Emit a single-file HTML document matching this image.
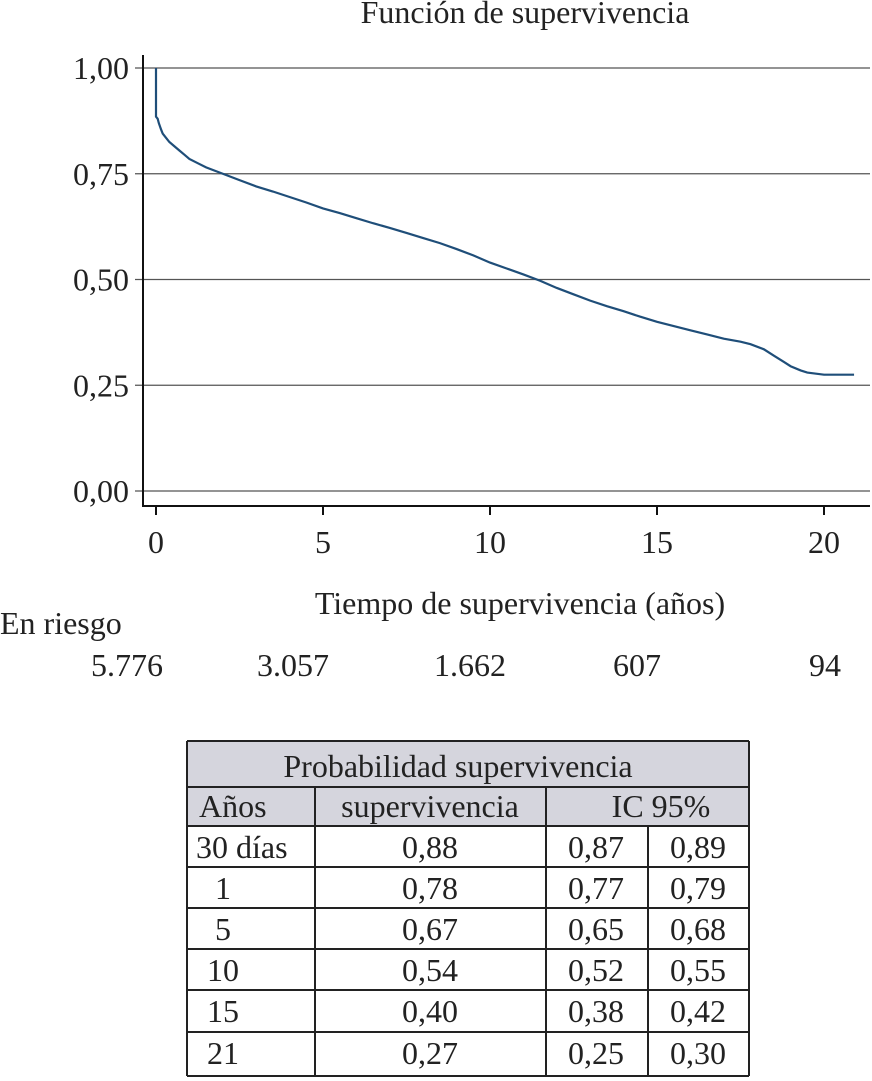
<!DOCTYPE html>
<html><head><meta charset="utf-8"><style>
body{margin:0;background:#fff;width:872px;height:1081px;overflow:hidden}
svg{display:block;font-family:"Liberation Serif",serif}
</style></head><body>
<svg id="s" width="872" height="1081">
<text x="525" y="23" text-anchor="middle" font-size="32" fill="#222">Función de supervivencia</text>
<g id="grid"></g>
<g id="axes"></g>
<path id="curve" fill="none" stroke="#1f4e79" stroke-width="2.2"/>
<text x="520" y="614" text-anchor="middle" font-size="32" fill="#222">Tiempo de supervivencia (años)</text>
<text x="0" y="634" font-size="32" fill="#222">En riesgo</text>
<g id="risk"></g>
<g id="table"></g>
</svg>
<script>
const NS="http://www.w3.org/2000/svg";
const times=[0,0.02,0.05,0.083,0.15,0.2,0.3,0.4,0.55,0.7,0.85,1,1.25,1.5,2,2.5,3,3.5,4,4.5,5,5.5,6,6.5,7,7.5,8,8.5,9,9.5,10,10.5,11,11.5,12,12.5,13,13.5,14,14.5,15,15.5,16,16.5,17,17.5,17.8,18.2,18.5,18.8,19,19.3,19.5,20,20.9];
const surv=[1,0.885,0.88,0.87,0.855,0.845,0.835,0.825,0.815,0.805,0.795,0.785,0.775,0.765,0.75,0.735,0.72,0.708,0.695,0.682,0.668,0.657,0.645,0.633,0.622,0.61,0.598,0.586,0.572,0.557,0.54,0.526,0.512,0.497,0.48,0.465,0.45,0.437,0.425,0.412,0.40,0.39,0.38,0.37,0.36,0.353,0.347,0.335,0.32,0.305,0.295,0.285,0.28,0.275,0.275];
const yTicks=[0,0.25,0.5,0.75,1];
const yLabels=["0,00","0,25","0,50","0,75","1,00"];
const xTicks=[0,5,10,15,20];
const atRisk=["5.776","3.057","1.662","607","94"];
const riskX=[127,293,470,637,825];
const X=t=>156+t*33.4, Y=v=>491-v*423;
function el(tag,a,parent,txt){const e=document.createElementNS(NS,tag);for(const k in a)e.setAttribute(k,a[k]);if(txt!=null)e.textContent=txt;parent.appendChild(e);return e;}
const g=document.getElementById('grid'),ax=document.getElementById('axes');
yTicks.forEach((v,i)=>{
 const l=el('line',{x1:135,x2:870,y1:Y(v),y2:Y(v),stroke:'#555','stroke-width':1.3},g);
 
 
 const t=el('text',{x:129,y:Y(v)+11,'text-anchor':'end','font-size':32,fill:'#222'},ax,yLabels[i]);
 
 
});
el('line',{x1:143,x2:143,y1:55,y2:507,stroke:'#111','stroke-width':2},ax);
el('line',{x1:142,x2:870,y1:506,y2:506,stroke:'#111','stroke-width':2},ax);
xTicks.forEach(v=>{
 el('line',{x1:X(v),x2:X(v),y1:506,y2:515,stroke:'#111','stroke-width':2},ax);
 const t=el('text',{x:X(v),y:553,'text-anchor':'middle','font-size':32,fill:'#222'},ax,String(v));
 
 
});
let d=`M${X(times[0])},${Y(surv[0])} V${Y(surv[1])}`;
for(let i=2;i<times.length;i++){d+=` L${X(times[i])},${Y(surv[i])}`;}
document.getElementById('curve').setAttribute('d',d);
const r=document.getElementById('risk');
atRisk.forEach((v,i)=>{
 const t=el('text',{x:riskX[i],y:676,'text-anchor':'middle','font-size':32,fill:'#222'},r,v);
 
 
});
const tb=document.getElementById('table');
const rows=[["30 días","0,88","0,87","0,89"],["1","0,78","0,77","0,79"],["5","0,67","0,65","0,68"],["10","0,54","0,52","0,55"],["15","0,40","0,38","0,42"],["21","0,27","0,25","0,30"]];
const L=187,R=749,c1=315,c2=546,c3=648;
const rowY=[826,867,908,949,990,1032,1076];
el('rect',{x:L,y:741,width:R-L,height:85,fill:'#d5d5dd'},tb);
const ln=(x1,y1,x2,y2)=>el('line',{x1,y1,x2,y2,stroke:'#222','stroke-width':2},tb);
ln(L,741,R,741);ln(L,787,R,787);rowY.forEach(y=>ln(L,y,R,y));
ln(L,741,L,1076);ln(R,741,R,1076);ln(c1,787,c1,1076);ln(c2,787,c2,1076);ln(c3,826,c3,1076);
const tx=(x,y,s,a)=>{const t=el('text',{x,y,'text-anchor':a||'middle','font-size':32,fill:'#222'},tb,s);};
tx(458,777,"Probabilidad supervivencia");
tx(199,817,"Años",'start');tx(430,817,"supervivencia");tx(661,817,"IC 95%");
rows.forEach((rw,i)=>{
 const y=rowY[i]+32;
 const ax0=i==0?196:(i<3?215:207);
 tx(ax0,y,rw[0],'start');tx(430,y,rw[1]);tx(596,y,rw[2]);tx(698,y,rw[3]);
});
</script>
</body></html>
